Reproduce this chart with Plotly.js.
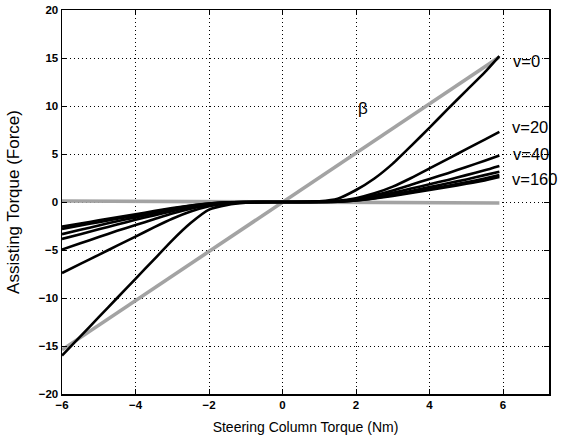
<!DOCTYPE html>
<html>
<head>
<meta charset="utf-8">
<script src="https://cdn.plot.ly/plotly-3.0.1.min.js"></script>
<style>html,body{margin:0;padding:0;background:#fff;}#chart{width:563px;height:440px;}</style>
</head>
<body>
<div id="chart"></div>
<script>
// Steering column torque (Nm)
const torque = [-6, -5.5, -5, -4.5, -4, -3.5, -3, -2.5, -2, -1.5, -1, -0.5, 0, 0.5, 1, 1.5, 2, 2.5, 3, 3.5, 4, 4.5, 5, 5.5, 5.9];
// Assisting torque for each vehicle speed
const v0   = [-16.0, -14.0, -12.0, -10.0, -8.0, -6.0, -4.0, -2.2, -0.8, -0.3, -0.08, -0.01, 0, 0.01, 0.08, 0.35, 1.25, 2.45, 4.0, 5.85, 7.75, 9.7, 11.6, 13.5, 15.2];
const v20  = [-7.4, -6.45, -5.5, -4.55, -3.6, -2.65, -1.75, -1.0, -0.45, -0.15, -0.04, 0, 0, 0, 0.04, 0.12, 0.4, 0.9, 1.6, 2.5, 3.5, 4.5, 5.5, 6.5, 7.3];
const v40  = [-4.95, -4.3, -3.65, -3.0, -2.4, -1.8, -1.2, -0.7, -0.3, -0.08, -0.02, 0, 0, 0, 0.02, 0.08, 0.3, 0.7, 1.2, 1.8, 2.4, 3.0, 3.65, 4.3, 4.85];
const v60  = [-3.85, -3.35, -2.85, -2.35, -1.85, -1.4, -0.95, -0.55, -0.25, -0.06, -0.015, 0, 0, 0, 0.015, 0.06, 0.25, 0.55, 0.95, 1.4, 1.85, 2.3, 2.8, 3.3, 3.75];
const v80  = [-3.35, -2.9, -2.45, -2.0, -1.6, -1.2, -0.8, -0.45, -0.2, -0.05, -0.01, 0, 0, 0, 0.01, 0.05, 0.2, 0.45, 0.8, 1.15, 1.55, 1.95, 2.35, 2.8, 3.15];
const v120 = [-2.8, -2.45, -2.1, -1.75, -1.4, -1.05, -0.7, -0.4, -0.17, -0.04, -0.01, 0, 0, 0, 0.01, 0.04, 0.17, 0.4, 0.7, 1.02, 1.35, 1.7, 2.05, 2.45, 2.8];
const v160 = [-2.57, -2.25, -1.9, -1.6, -1.28, -0.95, -0.63, -0.36, -0.15, -0.035, -0.01, 0, 0, 0, 0.01, 0.035, 0.15, 0.36, 0.63, 0.93, 1.25, 1.57, 1.9, 2.25, 2.6];
// grey reference lines
const betaX = [-6, 5.9];
const betaY = [-15.4, 15.1];
const flatX = [-6, 5.9];
const flatY = [0.1, -0.1];
// labels
const labelText = ["v=0", "v=20", "v=40", "v=160"];
const labelX = [6.22, 6.18, 6.22, 6.18];
const labelY = [14.7, 7.8, 5.0, 2.4];
const xTicks = [-6, -4, -2, 0, 2, 4, 6];
const yTicks = [-20, -15, -10, -5, 0, 5, 10, 15, 20];

const FONT = 'Liberation Sans, Arial, sans-serif';
const grey = {color: '#a3a3a3', width: 3.6};
const black = {color: '#000000', width: 2.6, shape: 'spline', smoothing: 0.5};

const series = [v0, v20, v40, v60, v80, v120, v160];
const names = ['v=0', 'v=20', 'v=40', 'v=60', 'v=80', 'v=120', 'v=160'];

const traces = [
  {x: flatX, y: flatY, mode: 'lines', line: grey, hoverinfo: 'skip'},
  {x: betaX, y: betaY, mode: 'lines', line: grey, name: 'β'}
];
series.forEach((s, i) => traces.push({x: torque, y: s, mode: 'lines', line: black, name: names[i]}));

const annotations = labelText.map((t, i) => ({
  x: labelX[i], y: labelY[i], xref: 'x', yref: 'y', text: t, showarrow: false,
  xanchor: 'left', yanchor: 'middle', font: {family: FONT, size: 16.5, color: '#000'}
}));
annotations.push({x: 2.0, y: 9.7, xref: 'x', yref: 'y', text: 'β', showarrow: false,
  xanchor: 'left', yanchor: 'middle', font: {family: FONT, size: 17, color: '#000'}});

const axisCommon = {
  showline: true, linecolor: '#000', linewidth: 1.5, mirror: 'ticks',
  ticks: 'inside', ticklen: 5, tickcolor: '#000', tickwidth: 1,
  showgrid: true, gridcolor: '#000', gridwidth: 1, griddash: '1px,3px',
  zeroline: false,
  tickfont: {family: FONT, size: 11.5, color: '#000', weight: 'bold'}
};

const layout = {
  width: 563, height: 440,
  margin: {l: 62, r: 14, t: 10, b: 46},
  paper_bgcolor: '#fff', plot_bgcolor: '#fff',
  showlegend: false,
  xaxis: Object.assign({}, axisCommon, {
    range: [-6, 7.25], tickmode: 'array', tickvals: xTicks,
    title: {text: 'Steering Column Torque (Nm)', standoff: 12, font: {family: FONT, size: 14, color: '#000'}}
  }),
  yaxis: Object.assign({}, axisCommon, {
    range: [-20, 20], tickmode: 'array', tickvals: yTicks,
    title: {text: 'Assisting Torque (Force)', standoff: 14, font: {family: FONT, size: 17, color: '#000'}}
  }),
  annotations: annotations
};

Plotly.newPlot('chart', traces, layout, {staticPlot: true, displayModeBar: false});
</script>
</body>
</html>
